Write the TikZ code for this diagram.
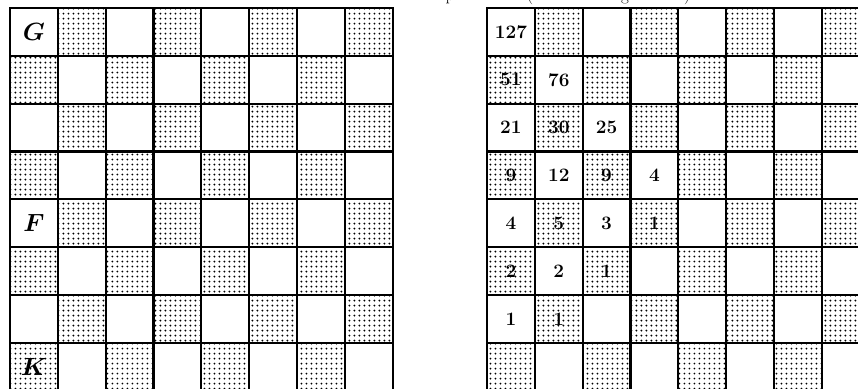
\documentclass[tikz,border=0pt]{standalone}
\usepackage{amsmath}
\usetikzlibrary{patterns.meta}

\newcommand{\sqsize}{47.84}

\begin{document}
\begin{tikzpicture}[x=1pt, y=-1pt,
  grid/.style={line width=2.2pt, line cap=rect},
  dark/.style={pattern={Dots[distance=5.4pt, radius=1.1pt]}},
  lett/.style={font=\fontsize{23}{26}\selectfont},
  num/.style={font=\fontsize{19}{22}\selectfont\bfseries},
  captext/.style={font=\fontsize{17}{20}\selectfont, anchor=base, inner sep=0pt}
]
\useasboundingbox (0,0) rectangle (858,388);
\clip (0,0) rectangle (858,388);

% ---- caption above, cut off by the frame ----
\node[captext] (cap-p) at (450, 0) {p};
\node[captext] (cap-l) at (530, 0) {(};
\node[captext] (cap-g) at (625, 0) {g};
\node[captext] (cap-r) at (687, 0) {)};

% ---- both boards: dotted squares and grid ----
\foreach \bx in {10, 487} {
  \foreach \r in {0,...,7}
    \foreach \k in {0,...,3}
      \fill[dark] ({\bx+(2*\k+1-mod(\r,2))*\sqsize}, {8+\r*\sqsize}) rectangle ++(\sqsize,\sqsize);
  \foreach \i in {0,...,8} {
    \draw[grid] ({\bx+\i*\sqsize}, 8) -- ++(0, 8*\sqsize);
    \draw[grid] (\bx, {8+\i*\sqsize}) -- ++(8*\sqsize, 0);
  }
}

% ---- left board: labels ----
\node[lett] (g-lbl) at (33.9, 31.9)  {$\boldsymbol{G}$};
\node[lett] (f-lbl) at (33.9, 223.3) {$\boldsymbol{F}$};
\node[lett] (k-lbl) at (33.9, 366.8) {$\boldsymbol{K}$};

% ---- right board: counts ----
\foreach \r/\c/\v in {0/0/127,
                      1/0/51, 1/1/76,
                      2/0/21, 2/1/30, 2/2/25,
                      3/0/9,  3/1/12, 3/2/9, 3/3/4,
                      4/0/4,  4/1/5,  4/2/3, 4/3/1,
                      5/0/2,  5/1/2,  5/2/1,
                      6/0/1,  6/1/1}
  \node[num] (n-\r-\c) at ({510.9+\c*\sqsize}, {31.9+\r*\sqsize}) {\v};

\end{tikzpicture}
\end{document}
